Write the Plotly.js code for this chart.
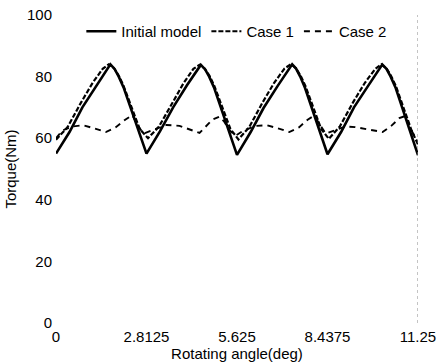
<!DOCTYPE html>
<html><head><meta charset="utf-8">
<script src="https://cdn.plot.ly/plotly-3.0.1.min.js"></script>
<style>html,body{margin:0;padding:0;background:#fff}#chart{width:439px;height:362px}</style>
</head><body><div id="chart"></div>
<script>
// Rotating angle (deg) and torque (Nm)
var initialAngle = [0, 0.42, 0.82, 1.26, 1.58, 1.69, 1.82, 1.95, 2.1, 2.35, 2.59,
  2.8125, 3.23, 3.64, 4.07, 4.39, 4.50, 4.63, 4.76, 4.91, 5.16, 5.40,
  5.625, 6.05, 6.45, 6.89, 7.22, 7.34, 7.46, 7.59, 7.74, 7.98, 8.22,
  8.4375, 8.86, 9.26, 9.70, 10.03, 10.14, 10.27, 10.40, 10.55, 10.79, 11.03, 11.25];
var initialTorque = [55, 62, 70, 77, 82.5, 84, 82.5, 80, 76.5, 69, 61.5,
  55, 62.2, 70, 77.2, 82.3, 83.8, 82.4, 80, 76.5, 69, 61.6,
  54.6, 62, 69.8, 77, 82.4, 84, 82.6, 80, 76.3, 69, 61.4,
  54.8, 62, 70, 77, 82.5, 83.9, 82.5, 80, 76.5, 69, 61.3, 54.5];

var case1Angle = [0, 0.36, 0.79, 1.14, 1.45, 1.64, 1.8, 1.95, 2.1, 2.35, 2.6,
  2.86, 3.2, 3.62, 3.96, 4.27, 4.46, 4.62, 4.77, 4.92, 5.17, 5.42,
  5.67, 6.0, 6.42, 6.78, 7.1, 7.3, 7.45, 7.6, 7.75, 7.99, 8.24,
  8.48, 8.82, 9.24, 9.6, 9.92, 10.11, 10.26, 10.41, 10.56, 10.8, 11.05, 11.25];
var case1Torque = [59.5, 63.6, 71.8, 78, 82.5, 84, 82.8, 80.3, 77, 70, 63,
  60, 63.8, 71.5, 77.8, 82.5, 83.8, 82.6, 80.3, 77, 70, 63,
  59.6, 63.5, 71.6, 78, 82.6, 84, 82.8, 80.3, 77, 70, 63,
  59.8, 63.8, 71.8, 78, 82.5, 84, 82.8, 80.3, 77, 70, 62.5, 58];

var case2Angle = [0, 0.2, 0.5, 0.85, 1.15, 1.55, 1.85, 2.15, 2.37, 2.55, 2.72,
  3.0, 3.43, 3.84, 4.2, 4.46, 4.86, 5.08, 5.22, 5.4, 5.58,
  5.83, 6.2, 6.55, 6.9, 7.25, 7.55, 7.82, 8.02, 8.2, 8.38,
  8.65, 9.0, 9.3, 9.74, 10.15, 10.42, 10.67, 10.85, 11.05, 11.25];
var case2Torque = [60, 62.5, 63.8, 64.2, 63.3, 62, 63.5, 66, 67.5, 64, 61.5,
  62.7, 64.3, 64, 62.8, 61.7, 66, 67, 65.5, 62.5, 60.8,
  62.5, 64, 64.2, 63.2, 62, 63.5, 66, 67.3, 64.5, 61.5,
  62.5, 63.8, 63.6, 62.7, 62, 64, 66.5, 67.2, 62.5, 58.5];

var seriesNames = ['Initial model', 'Case 1', 'Case 2'];
var xTickVals = [0, 2.8125, 5.625, 8.4375, 11.25];
var xTickText = ['0', '2.8125', '5.625', '8.4375', '11.25'];
var yTickVals = [0, 20, 40, 60, 80, 100];

var traces = [
  {x: initialAngle, y: initialTorque, name: seriesNames[0], mode: 'lines',
   line: {color: '#000', width: 2.6, dash: 'solid'}},
  {x: case1Angle, y: case1Torque, name: seriesNames[1], mode: 'lines',
   line: {color: '#000', width: 2.2, dash: '5px,2px'}},
  {x: case2Angle, y: case2Torque, name: seriesNames[2], mode: 'lines',
   line: {color: '#000', width: 1.9, dash: '6px,5px'}}
];

var layout = {
  width: 439, height: 362,
  margin: {l: 56, r: 21, t: 15, b: 39},
  paper_bgcolor: '#fff', plot_bgcolor: '#fff',
  font: {family: 'Liberation Sans, Arial, sans-serif', size: 15, color: '#000'},
  showlegend: true,
  legend: {orientation: 'h', x: 0.07, xanchor: 'left', y: 1.0, yanchor: 'top',
           bgcolor: 'rgba(0,0,0,0)', font: {size: 15}},
  xaxis: {range: [0, 11.25], tickvals: xTickVals, ticktext: xTickText,
          showgrid: false, zeroline: false, showline: false, ticks: '',
          ticklabelstandoff: 3,
          title: {text: 'Rotating angle(deg)', font: {size: 15}, standoff: 0}},
  yaxis: {range: [0, 100], tickvals: yTickVals,
          showgrid: false, zeroline: false, showline: false, ticks: '',
          ticklabelstandoff: 3,
          title: {text: 'Torque(Nm)', font: {size: 15}, standoff: 6}},
  shapes: [{type: 'line', xref: 'x', yref: 'paper',
            x0: xTickVals[xTickVals.length - 1], x1: xTickVals[xTickVals.length - 1],
            y0: 0, y1: 1, line: {color: '#888', width: 1, dash: 'dot'}}]
};

Plotly.newPlot('chart', traces, layout, {staticPlot: true, displayModeBar: false});
</script></body></html>
